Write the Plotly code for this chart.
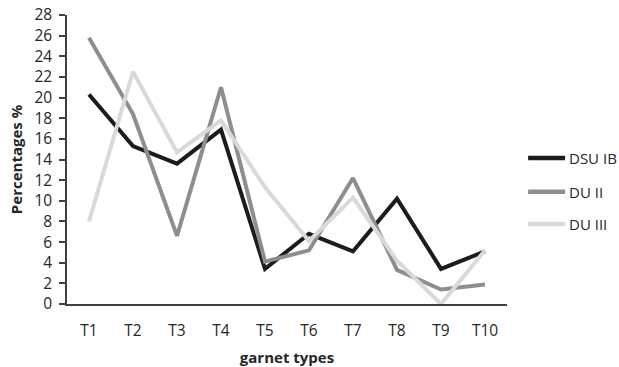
import plotly.graph_objects as go

categories = ["T1", "T2", "T3", "T4", "T5", "T6", "T7", "T8", "T9", "T10"]
dsu_ib = [20.3, 15.3, 13.6, 16.9, 3.4, 6.8, 5.1, 10.2, 3.4, 5.1]
du_ii = [25.8, 18.4, 6.6, 21.0, 4.1, 5.2, 12.2, 3.3, 1.4, 1.9]
du_iii = [8.0, 22.5, 14.7, 17.8, 11.3, 6.1, 10.3, 4.2, 0.0, 5.2]
y_ticks = list(range(0, 29, 2))

series = [("DSU IB", dsu_ib, "#1c1c1c"), ("DU II", du_ii, "#8e8e8e"), ("DU III", du_iii, "#d9d9d9")]

FONT = "Open Sans"
fig = go.Figure()
for name, vals, col in series:
    fig.add_trace(go.Scatter(x=categories, y=vals, name=name, mode="lines",
                             showlegend=False,
                             line=dict(color=col, width=4)))

# manual legend (layout only) in paper coordinates
leg_y = [0.505, 0.388, 0.277]
for (name, vals, col), ly in zip(series, leg_y):
    fig.add_shape(type="line", xref="paper", yref="paper",
                  x0=1.048, x1=1.132, y0=ly, y1=ly,
                  line=dict(color=col, width=4.5))
    fig.add_annotation(xref="paper", yref="paper", x=1.137, y=ly,
                       text=name, showarrow=False, xanchor="left", yanchor="middle",
                       font=dict(size=15, color="#262626"))

fig.update_layout(
    width=619, height=367,
    margin=dict(l=67, r=112, t=15, b=63),
    paper_bgcolor="white", plot_bgcolor="white",
    font=dict(family=FONT, size=15.5, color="#262626"),
    showlegend=False,
)
fig.update_xaxes(
    type="category", range=[-0.5, 9.5], automargin=False,
    showline=True, linecolor="#404040", linewidth=1.5,
    showgrid=False, ticks="", ticklabelstandoff=12,
    title=dict(text="<b>garnet types</b>", font=dict(size=15), standoff=14),
)
fig.update_yaxes(
    range=[0, 28], tickvals=y_ticks, automargin=False,
    showline=True, linecolor="#404040", linewidth=1.5,
    showgrid=False, zeroline=False,
    ticks="outside", ticklen=6, tickcolor="#404040", tickwidth=1.5,
    ticklabelstandoff=4,
    title=dict(text="<b>Percentages %</b>", font=dict(size=15), standoff=8),
)

fig.write_html("out.html")
